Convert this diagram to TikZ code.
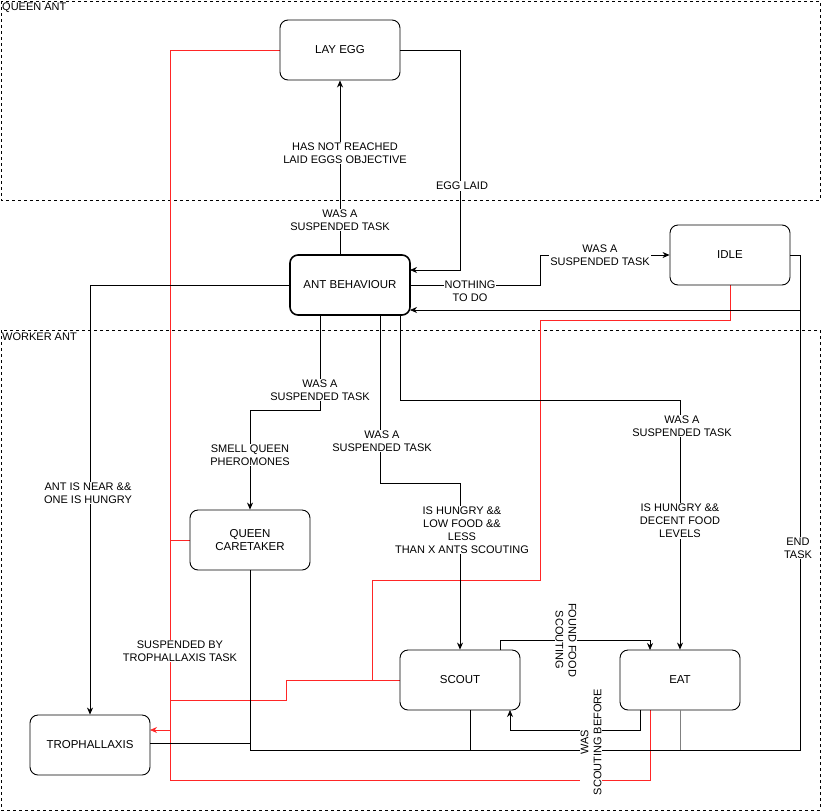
\documentclass[tikz,border=0pt]{standalone}
\usepackage{fontspec}
\setmainfont{Liberation Sans}
\usetikzlibrary{arrows.meta}
\begin{document}
\begin{tikzpicture}[x=1pt,y=-1pt,
  box/.style={draw,line width=0.9pt,rounded corners=8pt,minimum width=120pt,minimum height=60pt,font=\fontsize{11.5}{13.5}\selectfont,align=center},
  cont/.style={draw,dashed,line width=0.6pt},
  lab/.style={fill=white,font=\fontsize{11}{13}\selectfont,align=center,inner sep=1pt},
  clab/.style={font=\fontsize{11}{13}\selectfont,anchor=north west,inner sep=1pt},
  ar/.style={-{Stealth[length=7pt,width=6pt]},line width=0.7pt},
  ln/.style={line width=0.7pt},
  rd/.style={draw=red!85,line width=0.7pt}]
\useasboundingbox (0,0) rectangle (821,811);
\draw[cont] (1,1) rectangle (820,200);
\node[clab] (qa) at (1,2) {QUEEN ANT};
\draw[cont] (1,330) rectangle (820,810);
\node[clab] (wa) at (1,332) {WORKER ANT};

% red
\draw[rd] (280,50) -- (170,50) -- (170,780) -- (650,780) -- (650,710);
\draw[rd] (190,540) -- (170,540);
\draw[rd,-{Stealth[length=7pt,width=6pt]}] (170,730) -- (150,730);
\draw[rd] (400,680) -- (372,680) -- (372,580) -- (540,580) -- (540,320) -- (730,320) -- (730,285);
\draw[rd] (372,680) -- (286,680) -- (286,700) -- (170,700);

\node[box] (lay) at (340,50) {LAY EGG};
\node[box,line width=1.6pt] (ab) at (350,285) {ANT BEHAVIOUR};
\node[box] (idle) at (730,255) {IDLE};
\node[box] (qc) at (250,540) {QUEEN\\CARETAKER};
\node[box] (sc) at (460,680) {SCOUT};
\node[box] (eat) at (680,680) {EAT};
\node[box] (tr) at (90,745) {TROPHALLAXIS};

% black
\draw[ar] (340,255) -- (lay.south);
\node[lab] (l1) at (340,220) {WAS A\\SUSPENDED TASK};
\node[lab] (l2) at (345,153) {HAS NOT REACHED\\LAID EGGS OBJECTIVE};
\draw[ar] (lay.east) -- (460,50) -- (460,270) -- (410,270);
\node[lab] (l3) at (462,186) {EGG LAID};
\draw[ar] (ab.east) -- (540,285) -- (540,255) -- (idle.west);
\node[lab] (l4) at (470,291) {NOTHING\\TO DO};
\node[lab] (l5) at (600,255) {WAS A\\SUSPENDED TASK};
\draw[ln] (idle.east) -- (800,255) -- (800,750) -- (250,750) -- (qc.south);
\draw[ar] (800,310) -- (410,310);
\node[lab] (l6) at (798,548) {END\\TASK};
\draw[ln] (470,710) -- (470,750);
\draw[ln,gray] (eat.south) -- (680,750);
\draw[ln] (150,743) -- (250,743);
\draw[ar] (ab.west) -- (90,285) -- (tr.north);
\node[lab] (l7) at (88,493) {ANT IS NEAR \&\&\\ONE IS HUNGRY};
\draw[ar] (320,315) -- (320,410) -- (250,410) -- (qc.north);
\node[lab] (l8) at (320,390) {WAS A\\SUSPENDED TASK};
\node[lab] (l9) at (250,455) {SMELL QUEEN\\PHEROMONES};
\draw[ar] (380,315) -- (380,483) -- (460,483) -- (sc.north);
\node[lab] (l10) at (382,441) {WAS A\\SUSPENDED TASK};
\node[lab] (l11) at (462,530) {IS HUNGRY \&\&\\LOW FOOD \&\&\\LESS\\THAN X ANTS SCOUTING};
\draw[ar] (400,315) -- (400,400) -- (680,400) -- (eat.north);
\node[lab] (l12) at (682,426) {WAS A\\SUSPENDED TASK};
\node[lab] (l13) at (680,521) {IS HUNGRY \&\&\\DECENT FOOD\\LEVELS};
\draw[ar] (500,650) -- (500,640) -- (650,640) -- (650,650);
\node[lab,rotate=-90] (l14) at (566,640) {FOUND FOOD\\SCOUTING};
\draw[ar] (640,710) -- (640,730) -- (510,730) -- (510,710);
\node[lab,rotate=90] (l15) at (591,742) {WAS\\SCOUTING BEFORE};
\node[lab] (l16) at (180,651) {SUSPENDED BY\\TROPHALLAXIS TASK};
\end{tikzpicture}
\end{document}
